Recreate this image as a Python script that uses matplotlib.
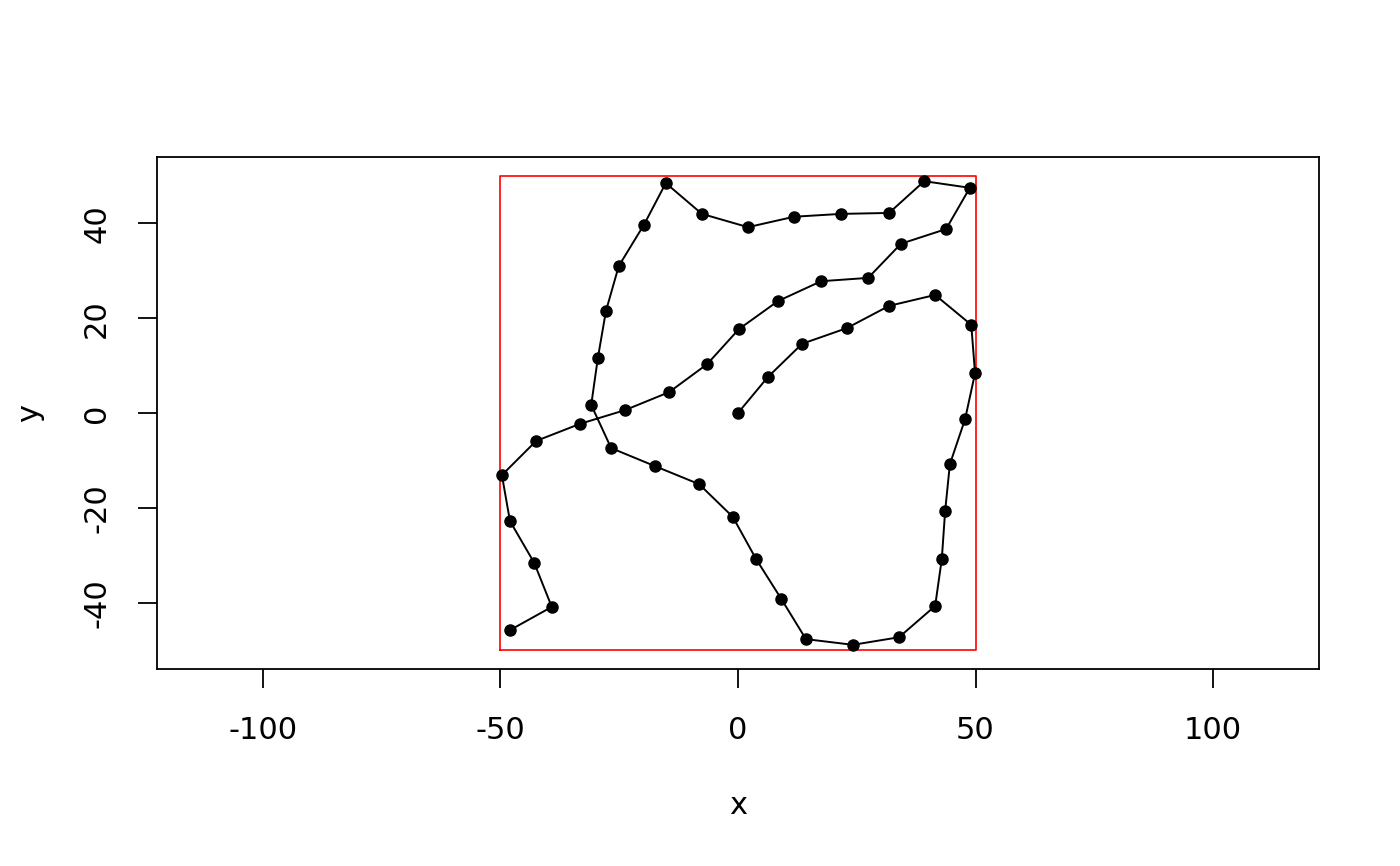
import matplotlib
matplotlib.use('Agg')
import matplotlib.pyplot as plt
import numpy as np

# points of the path
x = [0.0, 6.3, 13.5, 22.9, 31.8, 41.5, 49.1, 49.9, 47.8, 44.6, 43.6, 42.9, 41.5,
     33.9, 24.2, 14.3, 9.1, 3.8, -1.1, -8.2, -17.5, -26.7, -30.9, -29.5, -27.8,
     -25.1, -19.8, -15.2, -7.6, 2.1, 11.8, 21.7, 31.8, 39.2, 48.8, 43.8, 34.3,
     27.4, 17.5, 8.4, 0.2, -6.5, -14.5, -23.8, -33.3, -42.5, -49.7, -48.0, -42.9,
     -39.2, -48.0]
y = [0.0, 7.6, 14.6, 17.9, 22.6, 24.9, 18.6, 8.4, -1.3, -10.8, -20.7, -30.8, -40.7,
     -47.3, -48.9, -47.7, -39.2, -30.8, -21.9, -15.0, -11.2, -7.4, 1.7, 11.6, 21.5,
     31.0, 39.7, 48.5, 42.0, 39.2, 41.4, 42.0, 42.2, 48.9, 47.5, 38.8, 35.7,
     28.5, 27.8, 23.6, 17.7, 10.3, 4.4, 0.6, -2.3, -5.9, -13.1, -22.8, -31.6,
     -40.9, -45.8]

# square boundary
sq_x = [-50, 50, 50, -50, -50]
sq_y = [-50, -50, 50, 50, -50]

xticks = [-100, -50, 0, 50, 100]
yticks = [-40, -20, 0, 20, 40]

fig = plt.figure(figsize=(14, 8.66), dpi=100)
ax = fig.add_axes([157/1400, 1 - 669/866, 1162/1400, 512/866])

ax.plot(x, y, color='black', lw=1.4, marker='o', markersize=8, zorder=3)
ax.plot(sq_x, sq_y, color='red', lw=1.2, zorder=2)

ax.set_xlim(-122.3, 122.3)
ax.set_ylim(-54, 54)

ax.set_xticks(xticks)
ax.set_xticklabels([str(v) for v in xticks])
ax.set_yticks(yticks)
ax.set_yticklabels([str(v) for v in yticks], rotation=90, va='center')
ax.tick_params(axis='both', direction='out', length=14, width=1.3, labelsize=22, pad=19)
ax.tick_params(axis='x', pad=20)

for s in ax.spines.values():
    s.set_linewidth(1.3)

ax.set_xlabel('x', fontsize=22)
ax.set_ylabel('y', fontsize=22)
ax.xaxis.set_label_coords(0.5, (669 - 805) / 512)
ax.xaxis.label.set_va('center')
ax.yaxis.set_label_coords((30 - 157) / 1162, 0.5)
ax.yaxis.label.set_va('center')

fig.savefig('out.png', dpi=100)
